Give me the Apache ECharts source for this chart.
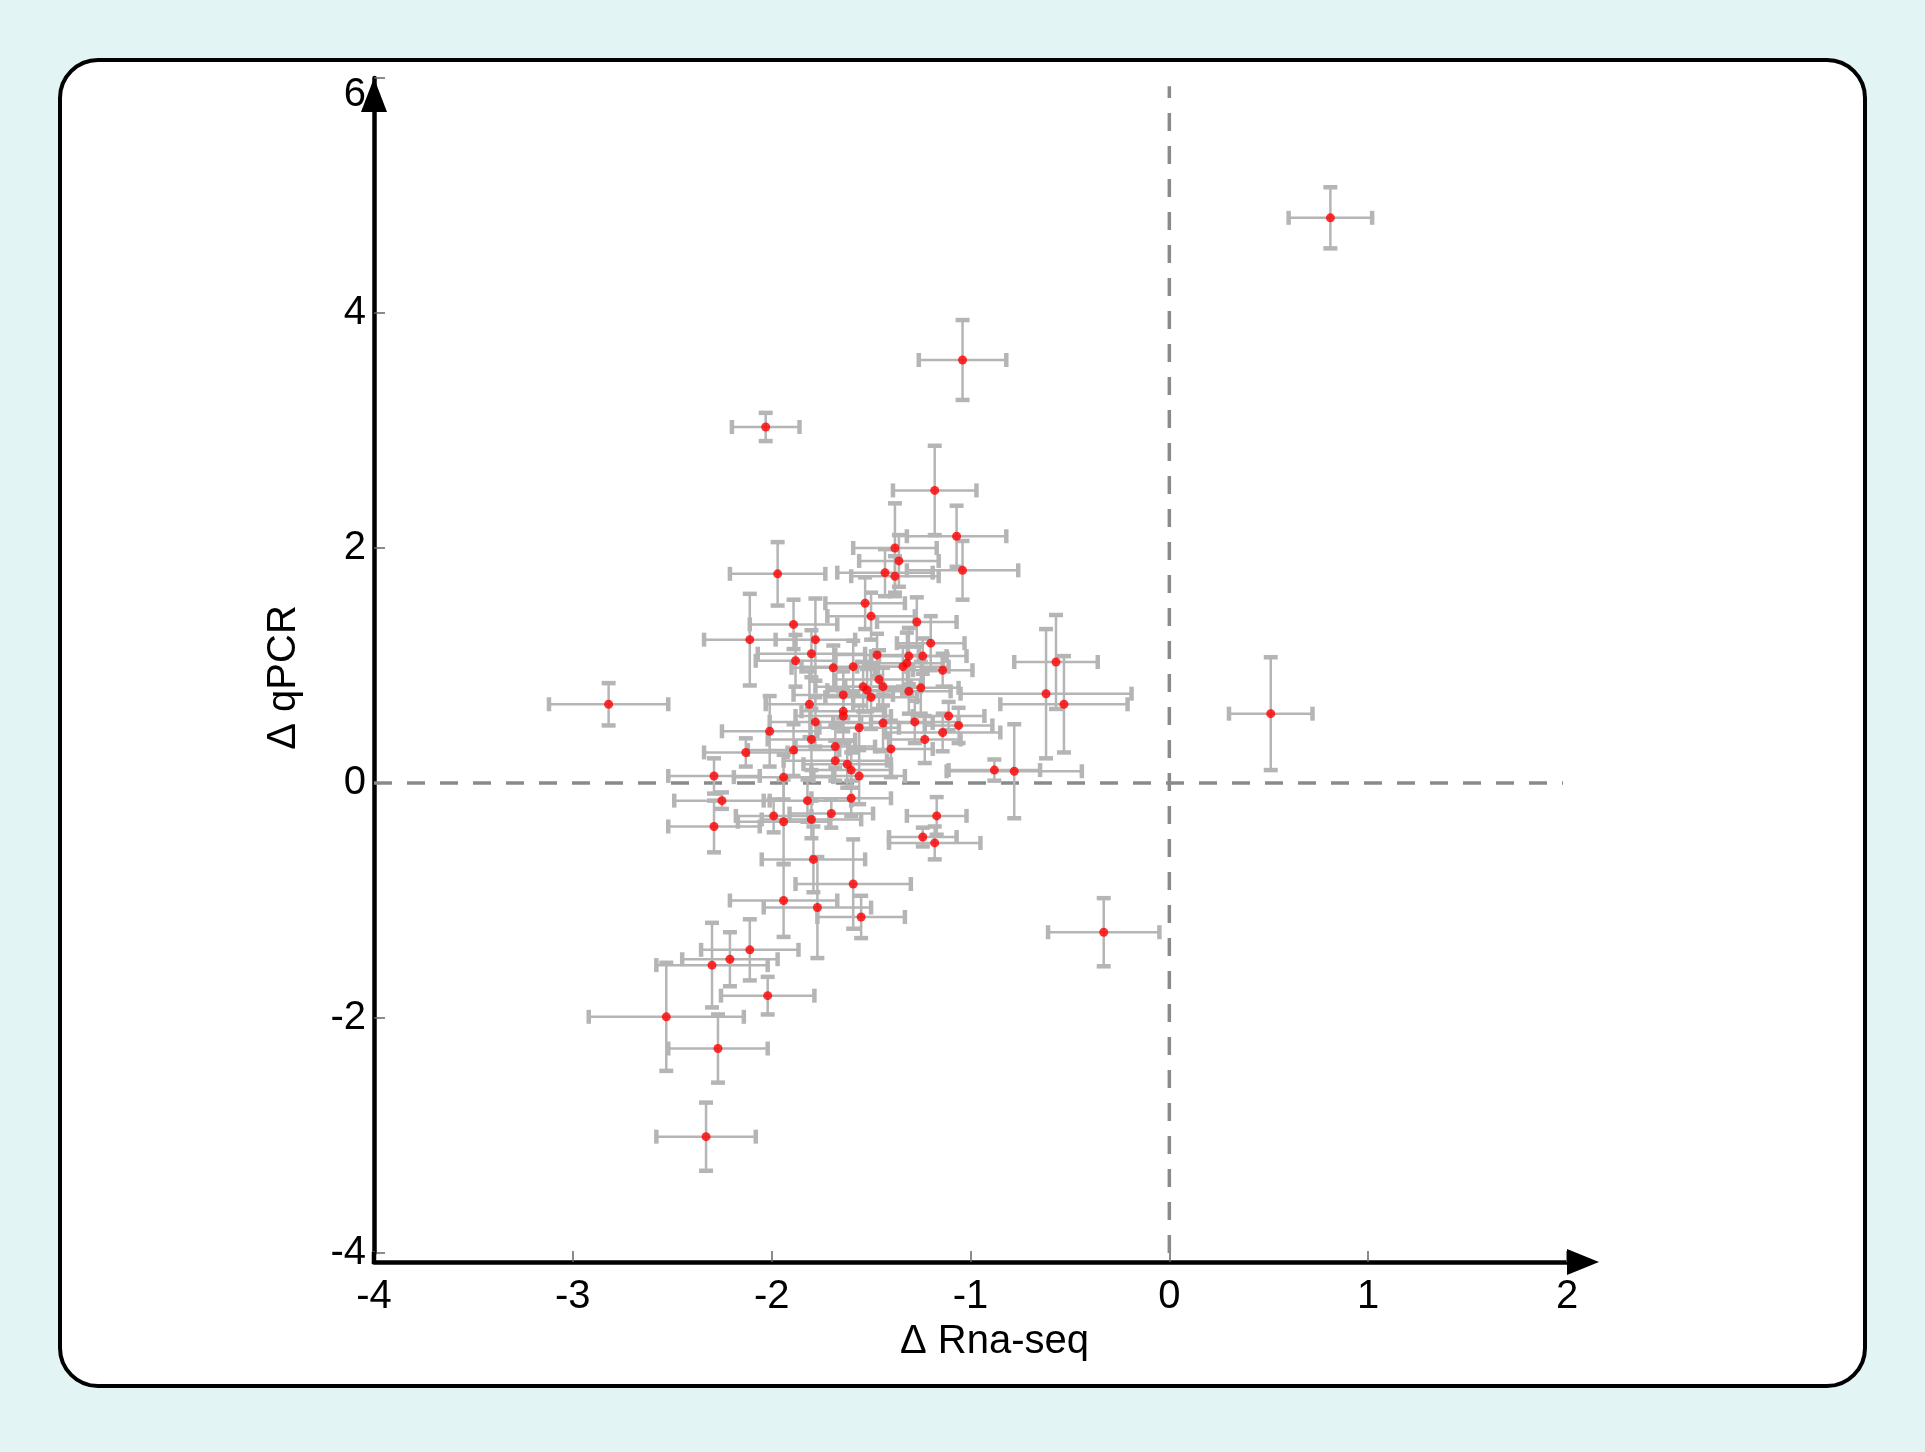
<!DOCTYPE html>
<html>
<head>
<meta charset="utf-8">
<title>qPCR vs RNA-seq</title>
<script src="https://cdn.jsdelivr.net/npm/echarts@6/dist/echarts.min.js"></script>
<style>
    html, body { margin: 0; padding: 0; background: #e2f4f4; }
    #card {
        position: absolute; left: 58px; top: 58px; width: 1801px; height: 1322px;
        background: #fff; border: 4px solid #000; border-radius: 40px;
    }
    #main { position: absolute; left: 0; top: 0; width: 1925px; height: 1452px; }
</style>
</head>
<body>
<div id="card"></div>
<div id="main"></div>
<script>
// values
var rnaSeq = [0.81, -1.04, -2.03, -1.18, -2.82, 0.51, -0.33, -2.33, -2.53, -2.27,
    -2.02, -2.30, -2.21, -2.11, -1.94, -1.77, -1.59, -1.55, -1.79, -0.88,
    -0.78, -0.62, -0.57, -0.53, -1.17, -1.24, -1.18, -1.97, -2.11, -1.07,
    -1.04, -1.38, -1.36, -1.43, -1.38, -1.53, -1.50, -1.27, -1.89, -1.78,
    -1.20, -1.80, -1.47, -1.31, -1.24, -1.88, -1.34, -1.32, -1.69, -1.59,
    -1.14, -1.46, -1.44, -1.54, -1.52, -1.50, -1.31, -1.25, -1.64, -1.81,
    -1.64, -1.64, -1.11, -1.78, -1.56, -1.44, -1.28, -1.06, -1.14, -1.23,
    -2.01, -1.80, -1.68, -1.40, -2.13, -1.89, -1.68, -1.62, -1.60, -1.56,
    -2.29, -1.94, -2.25, -1.82, -1.60, -1.70, -1.99, -1.94, -1.80, -2.29];
var qpcr = [4.81, 3.60, 3.03, 2.49, 0.67, 0.59, -1.27, -3.01, -1.99, -2.26,
    -1.81, -1.55, -1.50, -1.42, -1.00, -1.06, -0.86, -1.14, -0.65, 0.11,
    0.10, 0.76, 1.03, 0.67, -0.28, -0.46, -0.51, 1.78, 1.22, 2.10,
    1.81, 2.00, 1.89, 1.79, 1.76, 1.53, 1.42, 1.37, 1.35, 1.22,
    1.19, 1.10, 1.09, 1.08, 1.08, 1.04, 0.99, 1.02, 0.98, 0.99,
    0.96, 0.88, 0.82, 0.82, 0.79, 0.73, 0.78, 0.81, 0.75, 0.67,
    0.61, 0.57, 0.57, 0.52, 0.47, 0.51, 0.52, 0.49, 0.43, 0.37,
    0.44, 0.37, 0.31, 0.29, 0.26, 0.28, 0.19, 0.16, 0.11, 0.06,
    0.06, 0.05, -0.15, -0.15, -0.13, -0.26, -0.28, -0.33, -0.31, -0.37];
var rnaErr = [0.21, 0.22, 0.17, 0.21, 0.30, 0.21, 0.28, 0.25, 0.39, 0.25,
    0.235, 0.28, 0.24, 0.245, 0.27, 0.27, 0.29, 0.22, 0.26, 0.23,
    0.34, 0.43, 0.21, 0.32, 0.15, 0.17, 0.23, 0.24, 0.23, 0.25,
    0.28, 0.21, 0.20, 0.24, 0.22, 0.20, 0.22, 0.20, 0.22, 0.20,
    0.17, 0.27, 0.21, 0.19, 0.22, 0.20, 0.23, 0.18, 0.21, 0.26,
    0.15, 0.22, 0.19, 0.24, 0.20, 0.23, 0.21, 0.19, 0.25, 0.22,
    0.21, 0.24, 0.18, 0.23, 0.20, 0.25, 0.22, 0.17, 0.29, 0.18,
    0.24, 0.22, 0.20, 0.21, 0.21, 0.23, 0.26, 0.22, 0.20, 0.23,
    0.23, 0.25, 0.24, 0.22, 0.20, 0.21, 0.19, 0.23, 0.25, 0.23];
var qpcrErr = [0.26, 0.34, 0.12, 0.38, 0.18, 0.48, 0.29, 0.29, 0.46, 0.29,
    0.16, 0.36, 0.23, 0.26, 0.31, 0.43, 0.38, 0.18, 0.28, 0.09,
    0.40, 0.55, 0.40, 0.41, 0.16, 0.08, 0.14, 0.27, 0.39, 0.26,
    0.25, 0.38, 0.22, 0.20, 0.17, 0.22, 0.20, 0.21, 0.21, 0.35,
    0.23, 0.20, 0.18, 0.24, 0.15, 0.22, 0.17, 0.26, 0.19, 0.22,
    0.14, 0.25, 0.16, 0.21, 0.18, 0.27, 0.19, 0.22, 0.20, 0.28,
    0.17, 0.23, 0.12, 0.21, 0.19, 0.24, 0.18, 0.15, 0.16, 0.20,
    0.30, 0.26, 0.18, 0.24, 0.12, 0.22, 0.17, 0.20, 0.15, 0.24,
    0.15, 0.19, 0.07, 0.18, 0.15, 0.12, 0.14, 0.36, 0.16, 0.22];
var xTicks = [-4, 2, 1];   // min, max, step
var yTicks = [-4, 6, 2];

var myChart = echarts.init(document.getElementById('main'));

var points = [];
var bars = [];
for (var i = 0; i < rnaSeq.length; i++) {
    points.push([rnaSeq[i], qpcr[i]]);
    bars.push([rnaSeq[i], qpcr[i], rnaErr[i], qpcrErr[i]]);
}

var font = 'Liberation Sans, Arial, sans-serif';
var barColor = '#b5b5b5';
var xAxisDrop = 9;  // x axis line sits a little below y = -4

// error bars with caps
function renderBars(params, api) {
    var x = api.value(0), y = api.value(1);
    var xe = api.value(2), ye = api.value(3);
    var l = api.coord([x - xe, y]);
    var r = api.coord([x + xe, y]);
    var t = api.coord([x, y + ye]);
    var b = api.coord([x, y - ye]);
    var cap = 7;
    var thin = { stroke: barColor, lineWidth: 2.5 };
    var thick = { stroke: barColor, lineWidth: 4.5 };
    return {
        type: 'group',
        children: [
            { type: 'line', shape: { x1: l[0], y1: l[1], x2: r[0], y2: r[1] }, style: thin },
            { type: 'line', shape: { x1: t[0], y1: t[1], x2: b[0], y2: b[1] }, style: thin },
            { type: 'line', shape: { x1: l[0], y1: l[1] - cap, x2: l[0], y2: l[1] + cap }, style: thick },
            { type: 'line', shape: { x1: r[0], y1: r[1] - cap, x2: r[0], y2: r[1] + cap }, style: thick },
            { type: 'line', shape: { x1: t[0] - cap, y1: t[1], x2: t[0] + cap, y2: t[1] }, style: thick },
            { type: 'line', shape: { x1: b[0] - cap, y1: b[1], x2: b[0] + cap, y2: b[1] }, style: thick }
        ]
    };
}

var dash = { color: '#8a8a8a', width: 3.5, type: [18, 15] };

option = {
    animation: false,
    grid: { left: 374, right: 358, top: 78, bottom: 199 },
    xAxis: {
        type: 'value',
        min: xTicks[0], max: xTicks[1], interval: xTicks[2],
        offset: xAxisDrop,
        name: 'Δ Rna-seq',
        nameLocation: 'middle',
        nameGap: 59,
        nameTextStyle: { fontSize: 40, color: '#000', fontFamily: font, padding: [0, 0, 0, 48] },
        axisLine: {
            onZero: false,
            symbol: ['none', 'triangle'],
            symbolSize: [26, 32],
            symbolOffset: [0, 16],
            lineStyle: { color: '#000', width: 4.5 }
        },
        axisTick: { inside: true, length: 11, lineStyle: { color: '#666', width: 1.5 } },
        axisLabel: { fontSize: 40, color: '#000', fontFamily: font, margin: 15 },
        splitLine: { show: false }
    },
    yAxis: {
        type: 'value',
        min: yTicks[0], max: yTicks[1], interval: yTicks[2],
        name: 'Δ qPCR',
        nameLocation: 'middle',
        nameGap: 70,
        nameTextStyle: { fontSize: 40, color: '#000', fontFamily: font, padding: [0, 24, 0, 0] },
        axisLine: {
            onZero: false,
            symbol: ['none', 'triangle'],
            symbolSize: [26, 34],
            symbolOffset: [0, -17],
            lineStyle: { color: '#000', width: 4.5 }
        },
        axisTick: { inside: true, length: 11, lineStyle: { color: '#666', width: 1.5 } },
        axisLabel: {
            fontSize: 40, color: '#000', fontFamily: font, margin: 8,
            formatter: function(v) {
                return v === yTicks[1] ? '{top|' + v + '}' : '' + v;
            },
            rich: { top: { fontSize: 40, fontFamily: font, color: '#000', padding: [34, 0, 0, 0] } }
        },
        splitLine: { show: false }
    },
    series: [{
        type: 'line',
        data: [[-4, 0], [1.98, 0]],
        symbol: 'none',
        silent: true,
        lineStyle: dash,
        z: 1
    }, {
        type: 'line',
        data: [[0, -4], [0, 5.93]],
        symbol: 'none',
        silent: true,
        lineStyle: dash,
        z: 1
    }, {
        type: 'custom',
        data: bars,
        renderItem: renderBars,
        z: 2
    }, {
        type: 'scatter',
        data: points,
        symbolSize: 9,
        itemStyle: { color: '#ff0000' },
        z: 3
    }]
};

myChart.setOption(option);

// carry the y axis line down to the dropped x axis
var corner = myChart.convertToPixel({ gridIndex: 0 }, [xTicks[0], yTicks[0]]);
myChart.setOption({
    graphic: [{
        type: 'line',
        shape: { x1: corner[0], y1: corner[1] - 1, x2: corner[0], y2: corner[1] + xAxisDrop + 2 },
        style: { stroke: '#000', lineWidth: 4.5 },
        z: 10
    }]
});
</script>
</body>
</html>
